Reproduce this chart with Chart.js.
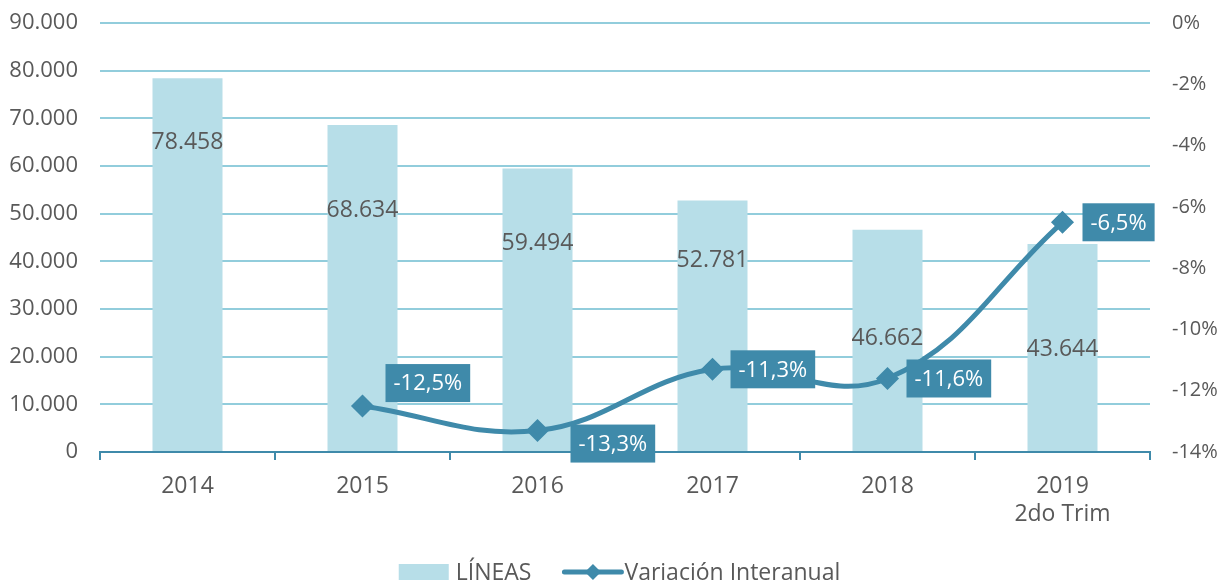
<!DOCTYPE html>
<html>
<head>
<meta charset="utf-8">
<script src="https://cdn.jsdelivr.net/npm/chart.js@4.4.1/dist/chart.umd.min.js"></script>
<style>
  html, body { margin: 0; padding: 0; background: #fff; }
  #wrap { width: 1223px; height: 586px; }
</style>
</head>
<body>
<div id="wrap"><canvas id="lineasChart" width="1223" height="586"></canvas></div>
<script>
// datos
const categories = ['2014', '2015', '2016', '2017', '2018', ['2019', '2do Trim']];
const lineas = [78458, 68634, 59494, 52781, 46662, 43644];
const variacion = [null, -12.5, -13.3, -11.3, -11.6, -6.5];
const seriesNames = ['LÍNEAS', 'Variación Interanual'];

const barColor = '#b7dee8';
const lineColor = '#3f8aaa';
const gridColor = '#92cddc';
const textColor = '#595959';
const fontFamily = "'Open Sans', 'Noto Sans', sans-serif";

// label placement (px, relative to mark)
const barLabelDrop = [64, 85, 75, 60, 109, 105];
const lineLabelShift = [null, [23, -23], [33, 13], [18, 0], [19, 0], [20, 0]];

function fmtMiles(v) {
    return String(Math.round(v)).replace(/\B(?=(\d{3})+(?!\d))/g, '.');
}
function fmtPct(v) {
    return v.toFixed(1).replace('.', ',') + '%';
}

const dataLabels = {
    id: 'dataLabels',
    afterDatasetsDraw(chart) {
        const ctx = chart.ctx;
        ctx.save();
        ctx.font = '23px ' + fontFamily;
        ctx.textBaseline = 'middle';

        const bars = chart.getDatasetMeta(1).data;
        ctx.fillStyle = textColor;
        ctx.textAlign = 'center';
        bars.forEach((bar, i) => {
            ctx.fillText(fmtMiles(lineas[i]), bar.x, bar.y + barLabelDrop[i]);
        });

        ctx.font = '22px ' + fontFamily;
        const pts = chart.getDatasetMeta(0).data;
        pts.forEach((pt, i) => {
            if (variacion[i] === null) return;
            const txt = fmtPct(variacion[i]);
            const w = ctx.measureText(txt).width + 16;
            const h = 38;
            const [dx, dy] = lineLabelShift[i];
            const left = pt.x + dx;
            const cy = pt.y + dy;
            ctx.fillStyle = lineColor;
            ctx.fillRect(left, cy - h / 2, w, h);
            ctx.fillStyle = '#ffffff';
            ctx.textAlign = 'center';
            ctx.fillText(txt, left + w / 2, cy + 1);
        });
        ctx.restore();
    }
};

// leyenda estilo Excel: rectangulo para barras, linea con rombo para la serie
const excelLegend = {
    id: 'excelLegend',
    afterDraw(chart) {
        const ctx = chart.ctx;
        ctx.save();
        ctx.font = '23px ' + fontFamily;
        ctx.textBaseline = 'middle';
        ctx.textAlign = 'left';
        const w0 = ctx.measureText(seriesNames[0]).width;
        const w1 = ctx.measureText(seriesNames[1]).width;
        const total = 50 + 7 + w0 + 33 + 57 + 3 + w1;
        let x = chart.width / 2 + 8 - total / 2;
        const y = chart.chartArea.bottom + 120;

        ctx.fillStyle = barColor;
        ctx.fillRect(x, y - 8, 50, 16);
        x += 57;
        ctx.fillStyle = textColor;
        ctx.fillText(seriesNames[0], x, y + 1);
        x += w0 + 33;

        ctx.strokeStyle = lineColor;
        ctx.lineWidth = 5;
        ctx.lineCap = 'round';
        ctx.beginPath(); ctx.moveTo(x, y); ctx.lineTo(x + 57, y); ctx.stroke();
        ctx.fillStyle = lineColor;
        const cx = x + 28.5;
        ctx.beginPath(); ctx.moveTo(cx, y - 8); ctx.lineTo(cx + 8, y); ctx.lineTo(cx, y + 8); ctx.lineTo(cx - 8, y); ctx.closePath(); ctx.fill();
        x += 60;
        ctx.fillStyle = textColor;
        ctx.fillText(seriesNames[1], x, y + 1);
        ctx.restore();
    }
};

const ctx = document.getElementById('lineasChart').getContext('2d');
new Chart(ctx, {
    type: 'bar',
    data: {
        labels: categories,
        datasets: [
            {
                type: 'line',
                label: seriesNames[1],
                data: variacion,
                yAxisID: 'y1',
                borderColor: lineColor,
                backgroundColor: lineColor,
                borderWidth: 5,
                tension: 0.4,
                pointStyle: 'rectRot',
                pointRadius: 8,
                pointHoverRadius: 8,
                order: 0
            },
            {
                label: seriesNames[0],
                data: lineas,
                yAxisID: 'y',
                backgroundColor: barColor,
                categoryPercentage: 0.8,
                barPercentage: 0.5,
                order: 1
            }
        ]
    },
    options: {
        responsive: false,
        animation: false,
        layout: { padding: { top: 0, left: 8, right: 0, bottom: 28 } },
        plugins: {
            legend: { display: false },
            tooltip: { enabled: false }
        },
        scales: {
            x: {
                grid: {
                    offset: true,
                    drawOnChartArea: false,
                    drawTicks: true,
                    tickLength: 8,
                    color: lineColor,
                    lineWidth: 2
                },
                border: { color: lineColor, width: 2 },
                ticks: {
                    color: textColor,
                    font: { family: fontFamily, size: 23 },
                    padding: 13
                },
                afterFit: s => { s.height = 106; }
            },
            y: {
                position: 'left',
                min: 0,
                max: 90000,
                ticks: {
                    stepSize: 10000,
                    color: textColor,
                    font: { family: fontFamily, size: 22 },
                    padding: 10,
                    callback: v => fmtMiles(v)
                },
                grid: { color: gridColor, lineWidth: 2, drawTicks: true, tickLength: 12, tickColor: 'transparent' },
                border: { display: false },
                afterFit: s => { s.width = 92; }
            },
            y1: {
                position: 'right',
                min: -14,
                max: 0,
                ticks: {
                    stepSize: 2,
                    color: textColor,
                    font: { family: fontFamily, size: 20 },
                    padding: 10,
                    callback: v => v + '%'
                },
                grid: { drawOnChartArea: false, drawTicks: true, tickLength: 12, tickColor: 'transparent' },
                border: { display: false },
                afterFit: s => { s.width = 73; }
            }
        }
    },
    plugins: [dataLabels, excelLegend]
});
</script>
</body>
</html>
